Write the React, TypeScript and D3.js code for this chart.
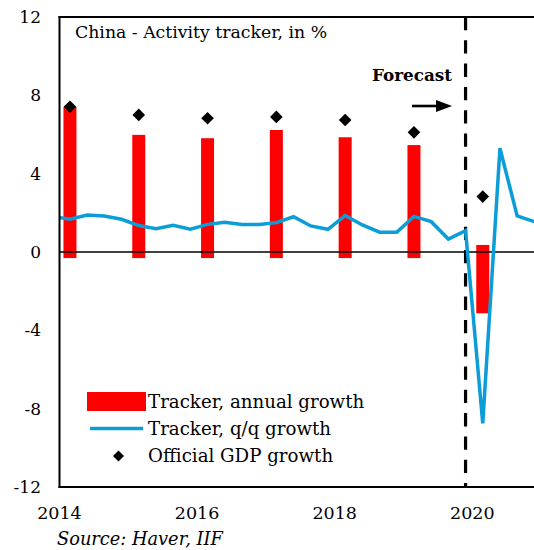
import React from "react";
import * as d3 from "d3";

const W = 534;
const H = 550;

// Quarterly tracker (q/q growth, %)
const qqPeriods = [
  "2013Q4",
  "2014Q1", "2014Q2", "2014Q3", "2014Q4",
  "2015Q1", "2015Q2", "2015Q3", "2015Q4",
  "2016Q1", "2016Q2", "2016Q3", "2016Q4",
  "2017Q1", "2017Q2", "2017Q3", "2017Q4",
  "2018Q1", "2018Q2", "2018Q3", "2018Q4",
  "2019Q1", "2019Q2", "2019Q3", "2019Q4",
  "2020Q1", "2020Q2", "2020Q3", "2020Q4",
];
const qqValues = [
  1.82,
  1.67, 1.89, 1.84, 1.67,
  1.35, 1.19, 1.36, 1.17,
  1.41, 1.52, 1.41, 1.41,
  1.5, 1.8, 1.33, 1.16,
  1.86, 1.38, 1.01, 1.01,
  1.82, 1.55, 0.66, 1.09,
  -8.75, 5.3, 1.84, 1.55,
];

// Annual tracker bars (floating columns: low / high)
const barYears = [2014, 2015, 2016, 2017, 2018, 2019, 2020];
const barHigh = [7.4, 5.98, 5.81, 6.23, 5.86, 5.46, 0.36];
const barLow = [-0.31, -0.31, -0.31, -0.31, -0.31, -0.31, -3.13];

// Official GDP growth
const gdpYears = [2014, 2015, 2016, 2017, 2018, 2019, 2020];
const gdpValues = [7.42, 7.0, 6.83, 6.9, 6.74, 6.11, 2.83];

const yTicks = [12, 8, 4, 0, -4, -8, -12];
const xTickYears = [2014, 2016, 2018, 2020];
const forecastStart = "2019Q4";

const title = "China - Activity tracker, in %";
const legendLabels = ["Tracker, annual growth", "Tracker, q/q growth", "Official GDP growth"];
const sourceText = "Source: Haver, IIF";

const FONT = "'DejaVu Serif', Georgia, serif";
const RED = "#FF0000";
const BLUE = "#0A9DD8";

const periodToTime = (p: string) => {
  const yr = +p.slice(0, 4);
  const q = +p.slice(5);
  return yr + (q - 1) / 4 + 0.152;
};

export default function App() {
  const left = 59.5;
  const top = 17;
  const bottom = 487;
  const right = W;

  const x = d3.scaleLinear().domain([2014, 2021]).range([left, left + 7 * 68.8]);
  const y = d3.scaleLinear().domain([-12, 12]).range([bottom, top]);

  const barW = 13;
  const lineGen = d3
    .line<number>()
    .x((_, i) => x(periodToTime(qqPeriods[i])))
    .y((d) => y(d));

  const xf = x(periodToTime(forecastStart));
  const diamond = (cx: number, cy: number, r: number) =>
    `M${cx},${cy - r}L${cx + r},${cy}L${cx},${cy + r}L${cx - r},${cy}Z`;

  return (
    <svg
      width={W}
      height={H}
      style={{ position: "absolute", left: 0, top: 0, background: "#fff" }}
      fontFamily={FONT}
    >
      <defs>
        <clipPath id="plot">
          <rect x={left} y={top} width={right - left} height={bottom - top} />
        </clipPath>
      </defs>
      <rect x={0} y={0} width={W} height={H} fill="#fff" />

      <g clipPath="url(#plot)">
        {barYears.map((yr, i) => {
          const cx = x(periodToTime(`${yr}Q1`));
          return (
            <rect
              key={yr}
              x={cx - barW / 2}
              y={y(barHigh[i])}
              width={barW}
              height={y(barLow[i]) - y(barHigh[i])}
              fill={RED}
            />
          );
        })}
        <line x1={left} x2={right} y1={y(0)} y2={y(0)} stroke="#000" strokeWidth={1.6} />
        <line
          x1={xf}
          x2={xf}
          y1={top}
          y2={bottom}
          stroke="#000"
          strokeWidth={3.2}
          strokeDasharray="13.3 10"
        />
        <path d={lineGen(qqValues) || ""} fill="none" stroke={BLUE} strokeWidth={3.5} strokeLinejoin="miter" />
        {gdpYears.map((yr, i) => (
          <path key={yr} d={diamond(x(periodToTime(`${yr}Q1`)), y(gdpValues[i]), 6.3)} fill="#000" />
        ))}
      </g>

      {/* frame */}
      <line x1={left} x2={left} y1={top - 1} y2={bottom + 1} stroke="#000" strokeWidth={2} />
      <line x1={left - 1} x2={right} y1={top} y2={top} stroke="#000" strokeWidth={2} />
      <line x1={left - 1} x2={right} y1={bottom} y2={bottom} stroke="#000" strokeWidth={2} />

      {/* y tick labels */}
      {yTicks.map((t) => (
        <text key={t} x={41} y={y(t)} dy="0.35em" textAnchor="end" fontSize={17} fill="#000">
          {t}
        </text>
      ))}

      {/* x tick labels */}
      {xTickYears.map((t) => (
        <text key={t} x={x(t)} y={519} textAnchor="middle" fontSize={17.5} fill="#000">
          {t}
        </text>
      ))}

      {/* title */}
      <text x={75} y={38} fontSize={17.3} fill="#000">
        {title}
      </text>

      {/* forecast annotation */}
      <text x={372} y={81} fontSize={16.8} fontWeight="bold" fill="#000">
        Forecast
      </text>
      <line x1={412} x2={438} y1={106} y2={106} stroke="#000" strokeWidth={2.6} />
      <path d="M436,100 L452,106 L436,112 Z" fill="#000" />

      {/* legend */}
      <rect x={87} y={392} width={59} height={19} fill={RED} />
      <text x={148} y={408} fontSize={18.2} fill="#000">
        {legendLabels[0]}
      </text>
      <line x1={90} x2={143} y1={428.5} y2={428.5} stroke={BLUE} strokeWidth={3.5} />
      <text x={148} y={434.5} fontSize={18.2} fill="#000">
        {legendLabels[1]}
      </text>
      <path d={diamond(118.5, 456, 5.5)} fill="#000" />
      <text x={148} y={462} fontSize={18.2} fill="#000">
        {legendLabels[2]}
      </text>

      {/* source */}
      <text x={57} y={545} fontSize={17.8} fontStyle="italic" fill="#000">
        {sourceText}
      </text>
    </svg>
  );
}
